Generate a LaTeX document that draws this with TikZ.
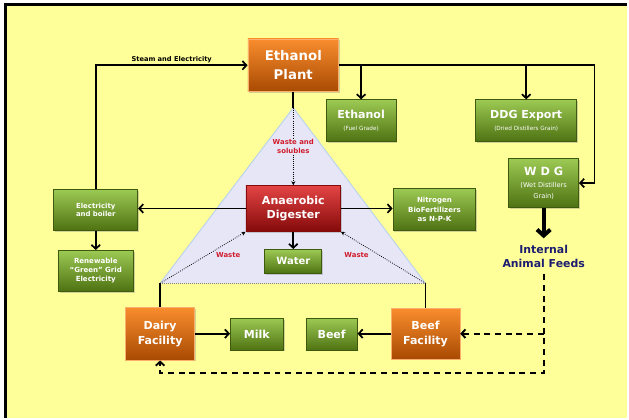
\documentclass[tikz,border=0pt]{standalone}
\usepackage{fontspec}
\setmainfont{DejaVu Sans}
\usetikzlibrary{arrows.meta,shadows}

\definecolor{bgyellow}{HTML}{FFFF99}
\definecolor{orangetop}{HTML}{F98D2E}
\definecolor{orangebot}{HTML}{A84A02}
\definecolor{greentop}{HTML}{9CC953}
\definecolor{greenbot}{HTML}{4E7212}
\definecolor{greenline}{HTML}{3E5A0E}
\definecolor{redtop}{HTML}{E44444}
\definecolor{redbot}{HTML}{850A0A}
\definecolor{wastered}{HTML}{D01C2C}
\definecolor{feednavy}{HTML}{1C1C70}
\definecolor{trifill}{HTML}{E6E6F7}
\definecolor{triline}{HTML}{B2D0EE}

\newcommand\plantfont{\fontsize{10}{14}\selectfont\bfseries}
\newcommand\headfont{\fontsize{8.3}{11}\selectfont\bfseries}
\newcommand\tinybold{\fontsize{5.2}{6.4}\selectfont\bfseries}
\newcommand\subfont{\fontsize{4.3}{6}\selectfont\mdseries}
\newcommand\wdgsub{\fontsize{5}{7}\selectfont\mdseries}

\tikzset{
  box/.style={rectangle, text=white, align=center, inner sep=0pt,
    drop shadow={shadow xshift=1pt, shadow yshift=-1pt, opacity=0.35}},
  boxsize/.style 2 args={minimum width=#1, minimum height=#2},
  orangebox/.style={box, top color=orangetop, bottom color=orangebot,
    draw=orangetop!70!white, line width=0.5pt},
  greenbox/.style={box, top color=greentop, bottom color=greenbot,
    draw=greenline, line width=0.6pt},
  redbox/.style={box, top color=redtop, bottom color=redbot,
    draw=redbot, line width=0.5pt},
  link/.style={line width=1.3pt, -{Straight Barb[length=3pt,width=6.5pt]}},
  plain/.style={line width=1.3pt},
  wasteline/.style={densely dotted, line width=0.6pt, -{Stealth[length=3pt,width=3pt]}},
  wastelabel/.style={text=wastered, align=center, inner sep=0.5pt,
    font=\fontsize{5.2}{6.8}\selectfont\bfseries},
  feedline/.style={line width=1.4pt, dash pattern=on 4.5pt off 3.5pt,
    -{Straight Barb[length=3pt,width=6.5pt]}},
}

\begin{document}
\begin{tikzpicture}[x=0.75pt,y=-0.75pt]
% page frame
\fill[white] (0,0) rectangle (629,419);
\fill[bgyellow] (5.5,4.5) rectangle (629,419);
\draw[line width=2.3pt] (5.5,419) -- (5.5,4.5) -- (629,4.5);
\useasboundingbox (0,0) rectangle (629,419);

% digester triangle
\coordinate (apex) at (294,108);
\coordinate (baseL) at (160.5,284);
\coordinate (baseR) at (426.5,284);
\fill[trifill] (apex) -- (baseR) -- (baseL) -- cycle;
\draw[triline, line width=0.6pt] (baseL) -- (apex) -- (baseR);
\draw[gray, densely dotted, line width=0.5pt] (baseL) -- (baseR);

% boxes
\node[orangebox, boxsize={68.25pt}{39.75pt}, font=\plantfont] (plant) at (294,65.5) {Ethanol\\Plant};
\node[greenbox, boxsize={52.5pt}{31.5pt}, font=\headfont] (ethanol) at (362,121) {Ethanol\\[-2.5pt]\subfont (Fuel Grade)};
\node[greenbox, boxsize={75.75pt}{31.5pt}, font=\headfont] (ddg) at (527.5,121) {DDG Export\\[-2.5pt]\subfont (Dried Distillers Grain)};
\node[greenbox, boxsize={52.5pt}{36.75pt}, font=\fontsize{8.5}{11}\selectfont\bfseries] (wdg) at (545,183.5)
  {W D G\\[-2pt]\wdgsub (Wet Distillers\\[-3pt]\wdgsub Grain)};
\node[text=feednavy, align=center, inner sep=5pt,
  font=\fontsize{8.2}{10.5}\selectfont\bfseries] (feeds) at (545,257) {Internal\\Animal Feeds};

\node[greenbox, boxsize={63pt}{30.75pt}, font=\tinybold] (elec) at (96,210.5) {Electricity\\and boiler};
\node[greenbox, boxsize={56.25pt}{30.75pt}, font=\fontsize{5.3}{6.8}\selectfont\bfseries] (renew) at (96,271.5) {Renewable\\``Green'' Grid\\Electricity};
\node[redbox, boxsize={71.25pt}{34.5pt}, font=\fontsize{8.3}{11}\selectfont\bfseries] (digester) at (294,209) {Anaerobic\\Digester};
\node[greenbox, boxsize={42.75pt}{18pt}, font=\fontsize{7.5}{9}\selectfont\bfseries] (water) at (294,262) {Water};
\node[greenbox, boxsize={62.25pt}{31.5pt}, font=\fontsize{5.3}{7}\selectfont\bfseries] (nitro) at (435.5,210) {Nitrogen\\BioFertilizers\\as N-P-K};

\node[orangebox, boxsize={51.75pt}{39.75pt}, font=\headfont] (dairy) at (160.5,334.5) {Dairy\\Facility};
\node[greenbox, boxsize={39.75pt}{24pt}, font=\headfont] (milk) at (257.5,335) {Milk};
\node[greenbox, boxsize={38.25pt}{24pt}, font=\headfont] (beef) at (332.5,335) {Beef};
\node[orangebox, boxsize={51.75pt}{38.25pt}, font=\headfont] (beeffac) at (426.5,334.5) {Beef\\Facility};

% plant in and out
\draw[link] (elec.north) |- node[pos=0.75, above, inner sep=1.5pt, font=\fontsize{5}{6}\selectfont\bfseries] {Steam and Electricity} (plant.west);
\coordinate (outR) at (596,65.5);
\draw[link] (plant.east) -- (outR) |- (wdg.east);
\draw[link] (plant.east -| ethanol.north) -- (ethanol.north);
\draw[link] (plant.east -| ddg.north) -- (ddg.north);
\draw[line width=3pt, -{Straight Barb[length=4.5pt,width=10pt]}] (wdg.south) -- (feeds.north);

% digester
\draw[plain] (plant.south) -- (apex);
\draw[wasteline] (apex) -- node[wastelabel, fill=trifill] {Waste and\\solubles} (digester.north);
\draw[link] (digester.west) -- (digester.west -| elec.east);
\draw[link] (digester.east) -- (digester.east -| nitro.west);
\draw[link] (digester.south) -- (water.north);
\draw[link] (elec.south) -- (renew.north);
\draw[wasteline] (baseL) -- node[wastelabel, pos=0.55, right=6pt] {Waste} (digester.south west);
\draw[wasteline] (baseR) -- node[wastelabel, pos=0.55, left=7pt] {Waste} (digester.south east);

% farms
\draw[plain] (dairy.north) -- (baseL);
\draw[plain] (beeffac.north) -- (baseR);
\draw[link] (dairy.east) -- (dairy.east -| milk.west);
\draw[link] (beeffac.west) -- (beeffac.west -| beef.east);

% feed back to farms
\coordinate (feedcorner) at (545,374);
\draw[feedline] (feeds.south) -- (feedcorner) -| (dairy.south);
\draw[feedline] (feeds.south |- beeffac.east) -- (beeffac.east);
\end{tikzpicture}
\end{document}
